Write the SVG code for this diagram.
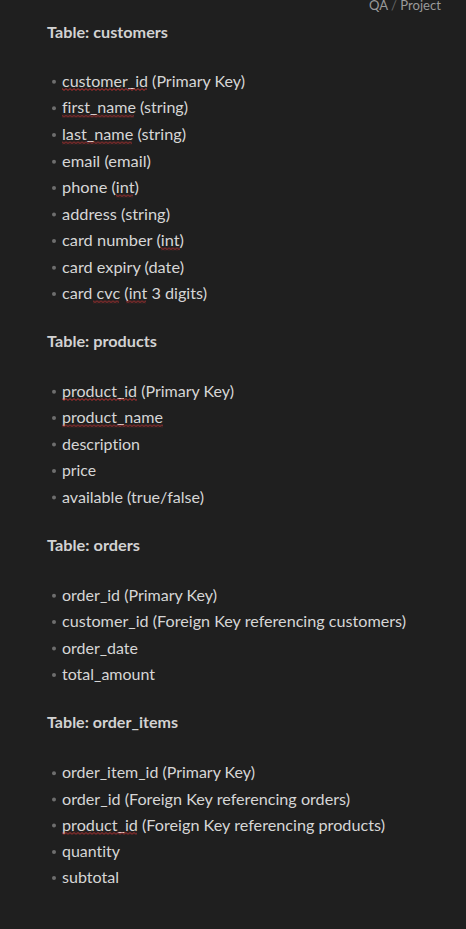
<svg xmlns="http://www.w3.org/2000/svg" width="466" height="929" viewBox="0 0 466 929">
<style>
.bg{fill:#1f1f1f}
text{font-variant-ligatures:none;font-feature-settings:"liga" 0,"clig" 0}
.h{font-family:Lato,"Open Sans","Liberation Sans",sans-serif;font-size:16px;font-weight:bold;fill:#d2d2d2}
.t{font-family:Lato,"Open Sans","Liberation Sans",sans-serif;font-size:16px;fill:#d6d6d6}
.b{fill:#6e6e6e}
.crumb{font-family:Lato,"Open Sans","Liberation Sans",sans-serif;font-size:14px;fill:#9a9a9a}
.sq{fill:url(#squig)}
</style>
<defs>
<pattern id="squig" width="4" height="3" patternUnits="userSpaceOnUse">
<path d="M0,0.6 L2,2.4 L4,0.6" fill="none" stroke="#d03434" stroke-width="0.9"/>
</pattern>
<circle id="dot" r="2" class="b"/>
</defs>
<rect class="bg" width="466" height="929"/>
<g id="breadcrumb">
<text class="crumb" x="369" y="10" textLength="72" lengthAdjust="spacingAndGlyphs">QA <tspan fill="#666">/</tspan> Project</text>
</g>
<g id="customers">
<text class="h" x="47" y="37.7" textLength="121" lengthAdjust="spacingAndGlyphs">Table: customers</text>
<use href="#dot" x="54" y="81.7"/><text class="t" x="62" y="86.7" textLength="183" lengthAdjust="spacingAndGlyphs">customer_id (Primary Key)</text>
<use href="#dot" x="54" y="108.3"/><text class="t" x="62" y="113.3" textLength="126" lengthAdjust="spacingAndGlyphs">first_name (string)</text>
<use href="#dot" x="54" y="135"/><text class="t" x="62" y="140" textLength="124" lengthAdjust="spacingAndGlyphs">last_name (string)</text>
<use href="#dot" x="54" y="161.7"/><text class="t" x="62" y="166.7" textLength="89" lengthAdjust="spacingAndGlyphs">email (email)</text>
<use href="#dot" x="54" y="188"/><text class="t" x="62" y="193" textLength="77" lengthAdjust="spacingAndGlyphs">phone (int)</text>
<use href="#dot" x="54" y="214.5"/><text class="t" x="62" y="219.5" textLength="108" lengthAdjust="spacingAndGlyphs">address (string)</text>
<use href="#dot" x="54" y="241"/><text class="t" x="62" y="246" textLength="122" lengthAdjust="spacingAndGlyphs">card number (int)</text>
<use href="#dot" x="54" y="267.7"/><text class="t" x="62" y="272.7" textLength="122" lengthAdjust="spacingAndGlyphs">card expiry (date)</text>
<use href="#dot" x="54" y="294"/><text class="t" x="62" y="299" textLength="145" lengthAdjust="spacingAndGlyphs">card cvc (int 3 digits)</text>
</g>
<g id="products">
<text class="h" x="47" y="346.7" textLength="110" lengthAdjust="spacingAndGlyphs">Table: products</text>
<use href="#dot" x="54" y="391.7"/><text class="t" x="62" y="396.7" textLength="172" lengthAdjust="spacingAndGlyphs">product_id (Primary Key)</text>
<use href="#dot" x="54" y="418"/><text class="t" x="62" y="423" textLength="101" lengthAdjust="spacingAndGlyphs">product_name</text>
<use href="#dot" x="54" y="444.5"/><text class="t" x="62" y="449.5" textLength="78" lengthAdjust="spacingAndGlyphs">description</text>
<use href="#dot" x="54" y="471"/><text class="t" x="62" y="476" textLength="34" lengthAdjust="spacingAndGlyphs">price</text>
<use href="#dot" x="54" y="497.5"/><text class="t" x="62" y="502.5" textLength="142" lengthAdjust="spacingAndGlyphs">available (true/false)</text>
</g>
<g id="orders">
<text class="h" x="47" y="550.5" textLength="93" lengthAdjust="spacingAndGlyphs">Table: orders</text>
<use href="#dot" x="54" y="595.7"/><text class="t" x="62" y="600.7" textLength="155" lengthAdjust="spacingAndGlyphs">order_id (Primary Key)</text>
<use href="#dot" x="54" y="622"/><text class="t" x="62" y="627" textLength="344" lengthAdjust="spacingAndGlyphs">customer_id (Foreign Key referencing customers)</text>
<use href="#dot" x="54" y="648.5"/><text class="t" x="62" y="653.5" textLength="76" lengthAdjust="spacingAndGlyphs">order_date</text>
<use href="#dot" x="54" y="675"/><text class="t" x="62" y="680" textLength="93" lengthAdjust="spacingAndGlyphs">total_amount</text>
</g>
<g id="order_items">
<text class="h" x="47" y="728.3" textLength="131" lengthAdjust="spacingAndGlyphs">Table: order_items</text>
<use href="#dot" x="54" y="773.3"/><text class="t" x="62" y="778.3" textLength="193" lengthAdjust="spacingAndGlyphs">order_item_id (Primary Key)</text>
<use href="#dot" x="54" y="799.5"/><text class="t" x="62" y="804.5" textLength="288" lengthAdjust="spacingAndGlyphs">order_id (Foreign Key referencing orders)</text>
<use href="#dot" x="54" y="825.5"/><text class="t" x="62" y="830.5" textLength="323" lengthAdjust="spacingAndGlyphs">product_id (Foreign Key referencing products)</text>
<use href="#dot" x="54" y="852"/><text class="t" x="62" y="857" textLength="58" lengthAdjust="spacingAndGlyphs">quantity</text>
<use href="#dot" x="54" y="878"/><text class="t" x="62" y="883" textLength="57" lengthAdjust="spacingAndGlyphs">subtotal</text>
</g>
<g id="spellcheck">
<g transform="translate(62,88)"><rect class="sq" width="85" height="3"/></g>
<g transform="translate(62,114.6)"><rect class="sq" width="72" height="3"/></g>
<g transform="translate(62,141.3)"><rect class="sq" width="70" height="3"/></g>
<g transform="translate(116,194.3)"><rect class="sq" width="17" height="3"/></g>
<g transform="translate(161,247.3)"><rect class="sq" width="19" height="3"/></g>
<g transform="translate(93,300.3)"><rect class="sq" width="26" height="3"/></g>
<g transform="translate(126,300.3)"><rect class="sq" width="20" height="3"/></g>
<g transform="translate(62,398)"><rect class="sq" width="75" height="3"/></g>
<g transform="translate(62,424.3)"><rect class="sq" width="101" height="3"/></g>
<g transform="translate(62,831.8)"><rect class="sq" width="75" height="3"/></g>
</g>
</svg>
